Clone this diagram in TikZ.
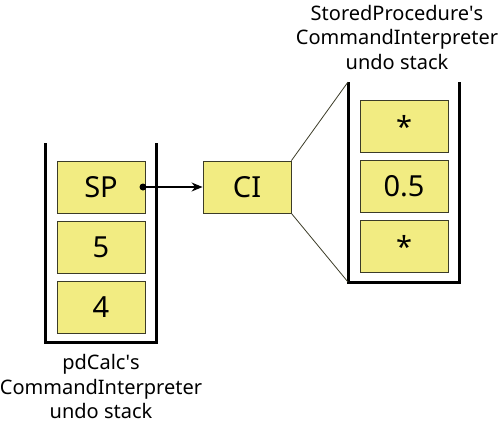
\documentclass[tikz,border=0pt]{standalone}
\usepackage{fontspec}
\setmainfont{Noto Sans}
\usepackage{xcolor}
\usepackage{tikz}
\usetikzlibrary{arrows.meta}

\definecolor{entryfill}{RGB}{242,236,130}
\definecolor{entryline}{RGB}{60,60,40}

\tikzset{
  entry/.style={draw=entryline, fill=entryfill, line width=0.9pt,
    minimum width=88pt, minimum height=52pt, inner sep=0pt,
    font=\fontsize{29}{32}\selectfont},
  wall/.style={line width=3pt},
  caption/.style={align=center, font=\fontsize{20}{24.5}\selectfont}
}

\begin{document}
\begin{tikzpicture}[x=1pt, y=-1pt]
    \useasboundingbox (0,0) rectangle (500,421);

    % pdCalc stack
    \draw[wall] (45,143) -- (45,342) -- (156,342) -- (156,143);
    \node[entry] (SP) at (101, 187) {SP};
    \node[entry] (five) at (101, 247) {5};
    \node[entry] (four) at (101, 307) {4};
    \node[caption] (pdlabel) at (101, 386.5) {pdCalc\textquotesingle s\\CommandInterpreter\\undo stack};

    % stored procedure's interpreter
    \node[entry] (CI) at (247, 187) {CI};
    \fill (143, 187) circle (3.5pt) coordinate (dot);
    \draw[-{Stealth[length=11pt, width=9pt]}, line width=1.3pt] (dot) -- (CI.west);

    % its stack
    \draw[wall] (348,82) -- (348,282) -- (459,282) -- (459,82);
    \coordinate (stacktop) at (348, 82);
    \coordinate (stackbot) at (348, 282);
    \draw[entryline, line width=0.8pt] (CI.north east) -- (stacktop);
    \draw[entryline, line width=0.8pt] (CI.south east) -- (stackbot);

    \node[entry] (multA) at (404, 126) {*};
    \node[entry] (half) at (404, 186) {0.5};
    \node[entry] (multB) at (404, 246) {*};
    \node[caption] (splabel) at (397, 37) {StoredProcedure\textquotesingle s\\CommandInterpreter\\undo stack};

  \end{tikzpicture}
\end{document}
